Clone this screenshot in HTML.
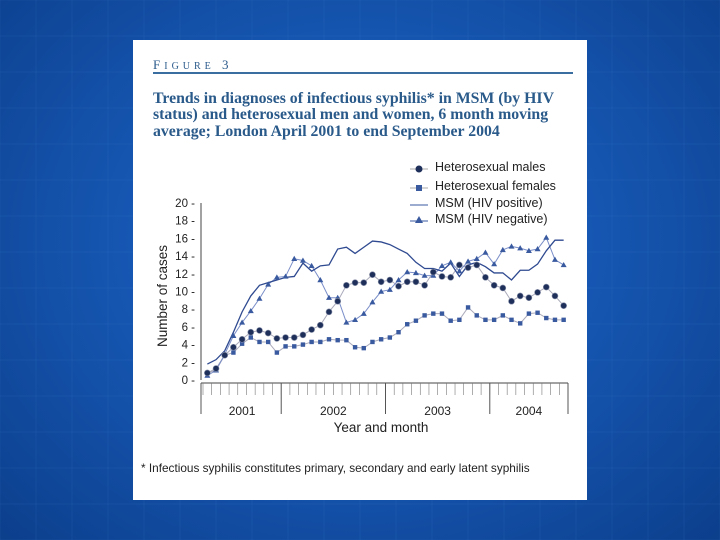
<!DOCTYPE html>
<html><head><meta charset="utf-8"><style>
html,body{margin:0;padding:0;width:720px;height:540px;overflow:hidden}
body{background:radial-gradient(ellipse at 50% 45%,#2470d0 0%,#1657b3 45%,#0c3f8c 100%);font-family:"Liberation Sans",sans-serif}
</style></head><body>
<svg id="chart" width="720" height="540" xmlns="http://www.w3.org/2000/svg" style="position:absolute;left:0;top:0">
<g stroke="#4a8ad8" stroke-opacity="0.12" stroke-width="1" id="bggrid"></g>
<rect x="133" y="40" width="454" height="460" fill="#fff"/>
<text x="153" y="69" font-family="Liberation Serif,serif" font-size="13" fill="#2a5a8a" letter-spacing="4">F<tspan font-size="10">IGURE</tspan> 3</text>
<line x1="153" y1="73" x2="573" y2="73" stroke="#3a6ea0" stroke-width="2"/>
<g font-family="Liberation Serif,serif" font-size="15.8" font-weight="bold" fill="#2a5a8a">
<text x="153" y="103">Trends in diagnoses of infectious syphilis* in MSM (by HIV</text>
<text x="153" y="119">status) and heterosexual men and women, 6 month moving</text>
<text x="153" y="136">average; London April 2001 to end September 2004</text>
</g>
<g font-size="12.5" fill="#222">
<g><line x1="410" y1="169" x2="428" y2="169" stroke="#aaa"/><circle cx="419" cy="169" r="3.5" fill="#1e2f5a"/><text x="435" y="171">Heterosexual males</text></g>
<g><line x1="410" y1="188" x2="428" y2="188" stroke="#aaa"/><rect x="416" y="185" width="6" height="6" fill="#3a5aa0"/><text x="435" y="190">Heterosexual females</text></g>
<g><line x1="410" y1="205" x2="428" y2="205" stroke="#3a5aa0"/><text x="435" y="207">MSM (HIV positive)</text></g>
<g><line x1="410" y1="221" x2="428" y2="221" stroke="#3a5aa0"/><path d="M419,216 L423,223 L415,223Z" fill="#3a5aa0"/><text x="435" y="223">MSM (HIV negative)</text></g>
</g>
<text transform="translate(167,296) rotate(-90)" text-anchor="middle" font-size="13.5" fill="#222">Number of cases</text>
<g id="axes"></g>
<g id="series"></g>
<text x="381" y="432" text-anchor="middle" font-size="13.5" fill="#222">Year and month</text>
<text x="141" y="472" font-size="11.8" fill="#222">* Infectious syphilis constitutes primary, secondary and early latent syphilis</text>
</svg>
<script>
const years=["2001","2002","2003","2004"];
const yTicks=[0,2,4,6,8,10,12,14,16,18,20];
const heteroMales=[0.8,1.3,2.8,3.7,4.6,5.4,5.6,5.3,4.7,4.8,4.8,5.1,5.7,6.2,7.7,8.9,10.7,11,11,11.9,11.1,11.3,10.6,11.1,11.1,10.7,12.2,11.7,11.6,13,12.7,13,11.6,10.7,10.4,8.9,9.5,9.3,9.9,10.5,9.5,8.4];
const heteroFemales=[0.8,1.1,2.8,3.1,4.1,4.8,4.3,4.3,3.1,3.8,3.8,4.0,4.3,4.3,4.6,4.5,4.5,3.7,3.6,4.3,4.6,4.8,5.4,6.3,6.7,7.3,7.5,7.5,6.7,6.8,8.2,7.3,6.8,6.8,7.3,6.8,6.4,7.5,7.6,7.0,6.8,6.8];
const msmHivNeg=[0.5,1.1,2.9,5.0,6.5,7.8,9.2,10.8,11.6,11.7,13.7,13.5,12.9,11.3,9.3,9.3,6.5,6.8,7.5,8.8,10.0,10.2,11.3,12.2,12.1,11.8,11.8,12.9,13.3,12.3,13.4,13.7,14.4,13.1,14.7,15.1,14.9,14.6,14.8,16.1,13.6,13.0];
const msmHivPos=[1.8,2.3,3.3,5.4,7.7,9.5,10.7,11,11.3,11.6,11.7,13.2,12.3,12.9,13.0,14.8,15.0,14.3,15.0,15.7,15.6,15.3,14.8,14.3,13.3,12.6,12.6,12.3,13.2,11.7,13.0,13.3,12.8,12.1,12.1,11.3,12.4,12.4,13.1,14.6,15.8,15.8,14.3].slice(0,42);
const NS='http://www.w3.org/2000/svg';
const x0=203,x1=568,yb=380,yt=203;
const N=heteroMales.length;
function xs(i){return x0+(i+0.5)*(x1-x0)/N;}
function ys(v){return yb-(v/20)*(yb-yt);}
function mk(tag,at,parent){const e=document.createElementNS(NS,tag);for(const k in at)e.setAttribute(k,at[k]);parent.appendChild(e);return e;}
const bg=document.getElementById('bggrid');
for(let x=0;x<=720;x+=36){mk('line',{x1:x,y1:0,x2:x,y2:540},bg);}
for(let y=0;y<=540;y+=36){mk('line',{x1:0,y1:y,x2:720,y2:y},bg);}
const ax=document.getElementById('axes');
const yl=mk('line',{x1:x0-2,y1:yt,x2:x0-2,y2:yb,stroke:'#444'},ax);


yTicks.forEach(t=>{
 const tx=mk('text',{x:x0-8,y:ys(t)+4,'text-anchor':'end','font-size':'11.5',fill:'#222'},ax);
 tx.textContent=t+' -';
 
 
});
const xl=mk('line',{x1:x0-2,y1:yb+3,x2:x1,y2:yb+3,stroke:'#444'},ax);


for(let i=0;i<=N;i++){const x=x0+i*(x1-x0)/N;const l=mk('line',{x1:x,y1:yb+3,x2:x,y2:yb+15,stroke:'#777','stroke-width':0.6},ax);}
const monthsPerYear=[9,12,12,9];let acc=0;
years.forEach((y,k)=>{
 const xa=x0+acc*(x1-x0)/N;acc+=monthsPerYear[k];const xb=x0+acc*(x1-x0)/N;
 const d=mk('line',{x1:xb,y1:yb+3,x2:xb,y2:yb+34,stroke:'#555'},ax);
 
 
 const t=mk('text',{x:(xa+xb)/2,y:yb+35,'text-anchor':'middle','font-size':'12',fill:'#222'},ax);
 t.textContent=y;
 
 
});
mk('line',{x1:x0-2,y1:yb+3,x2:x0-2,y2:yb+34,stroke:'#555'},ax);
const sg=document.getElementById('series');
function line(arr,color,w,name){const p=mk('polyline',{points:arr.map((v,i)=>xs(i)+','+ys(v)).join(' '),fill:'none',stroke:color,'stroke-width':w},sg);}
line(heteroFemales,'#aab','1','line-hetero-females');
line(heteroMales,'#aab','1','line-hetero-males');
line(msmHivNeg,'#7a8ec8','1','line-msm-hiv-neg');
line(msmHivPos,'#2f4a90','1.3','line-msm-hiv-pos');
heteroFemales.forEach((v,i)=>{const r=mk('rect',{x:xs(i)-2.2,y:ys(v)-2.2,width:4.4,height:4.4,fill:'#3a5aa0'},sg);});
msmHivNeg.forEach((v,i)=>{const x=xs(i),y=ys(v);const p=mk('path',{d:`M${x},${y-3} L${x+3},${y+2.2} L${x-3},${y+2.2}Z`,fill:'#3a5aa0'},sg);});
heteroMales.forEach((v,i)=>{const c=mk('circle',{cx:xs(i),cy:ys(v),r:3,fill:'#1e2f5a',stroke:'#8890a8','stroke-width':0.6},sg);});
</script>
</body></html>
